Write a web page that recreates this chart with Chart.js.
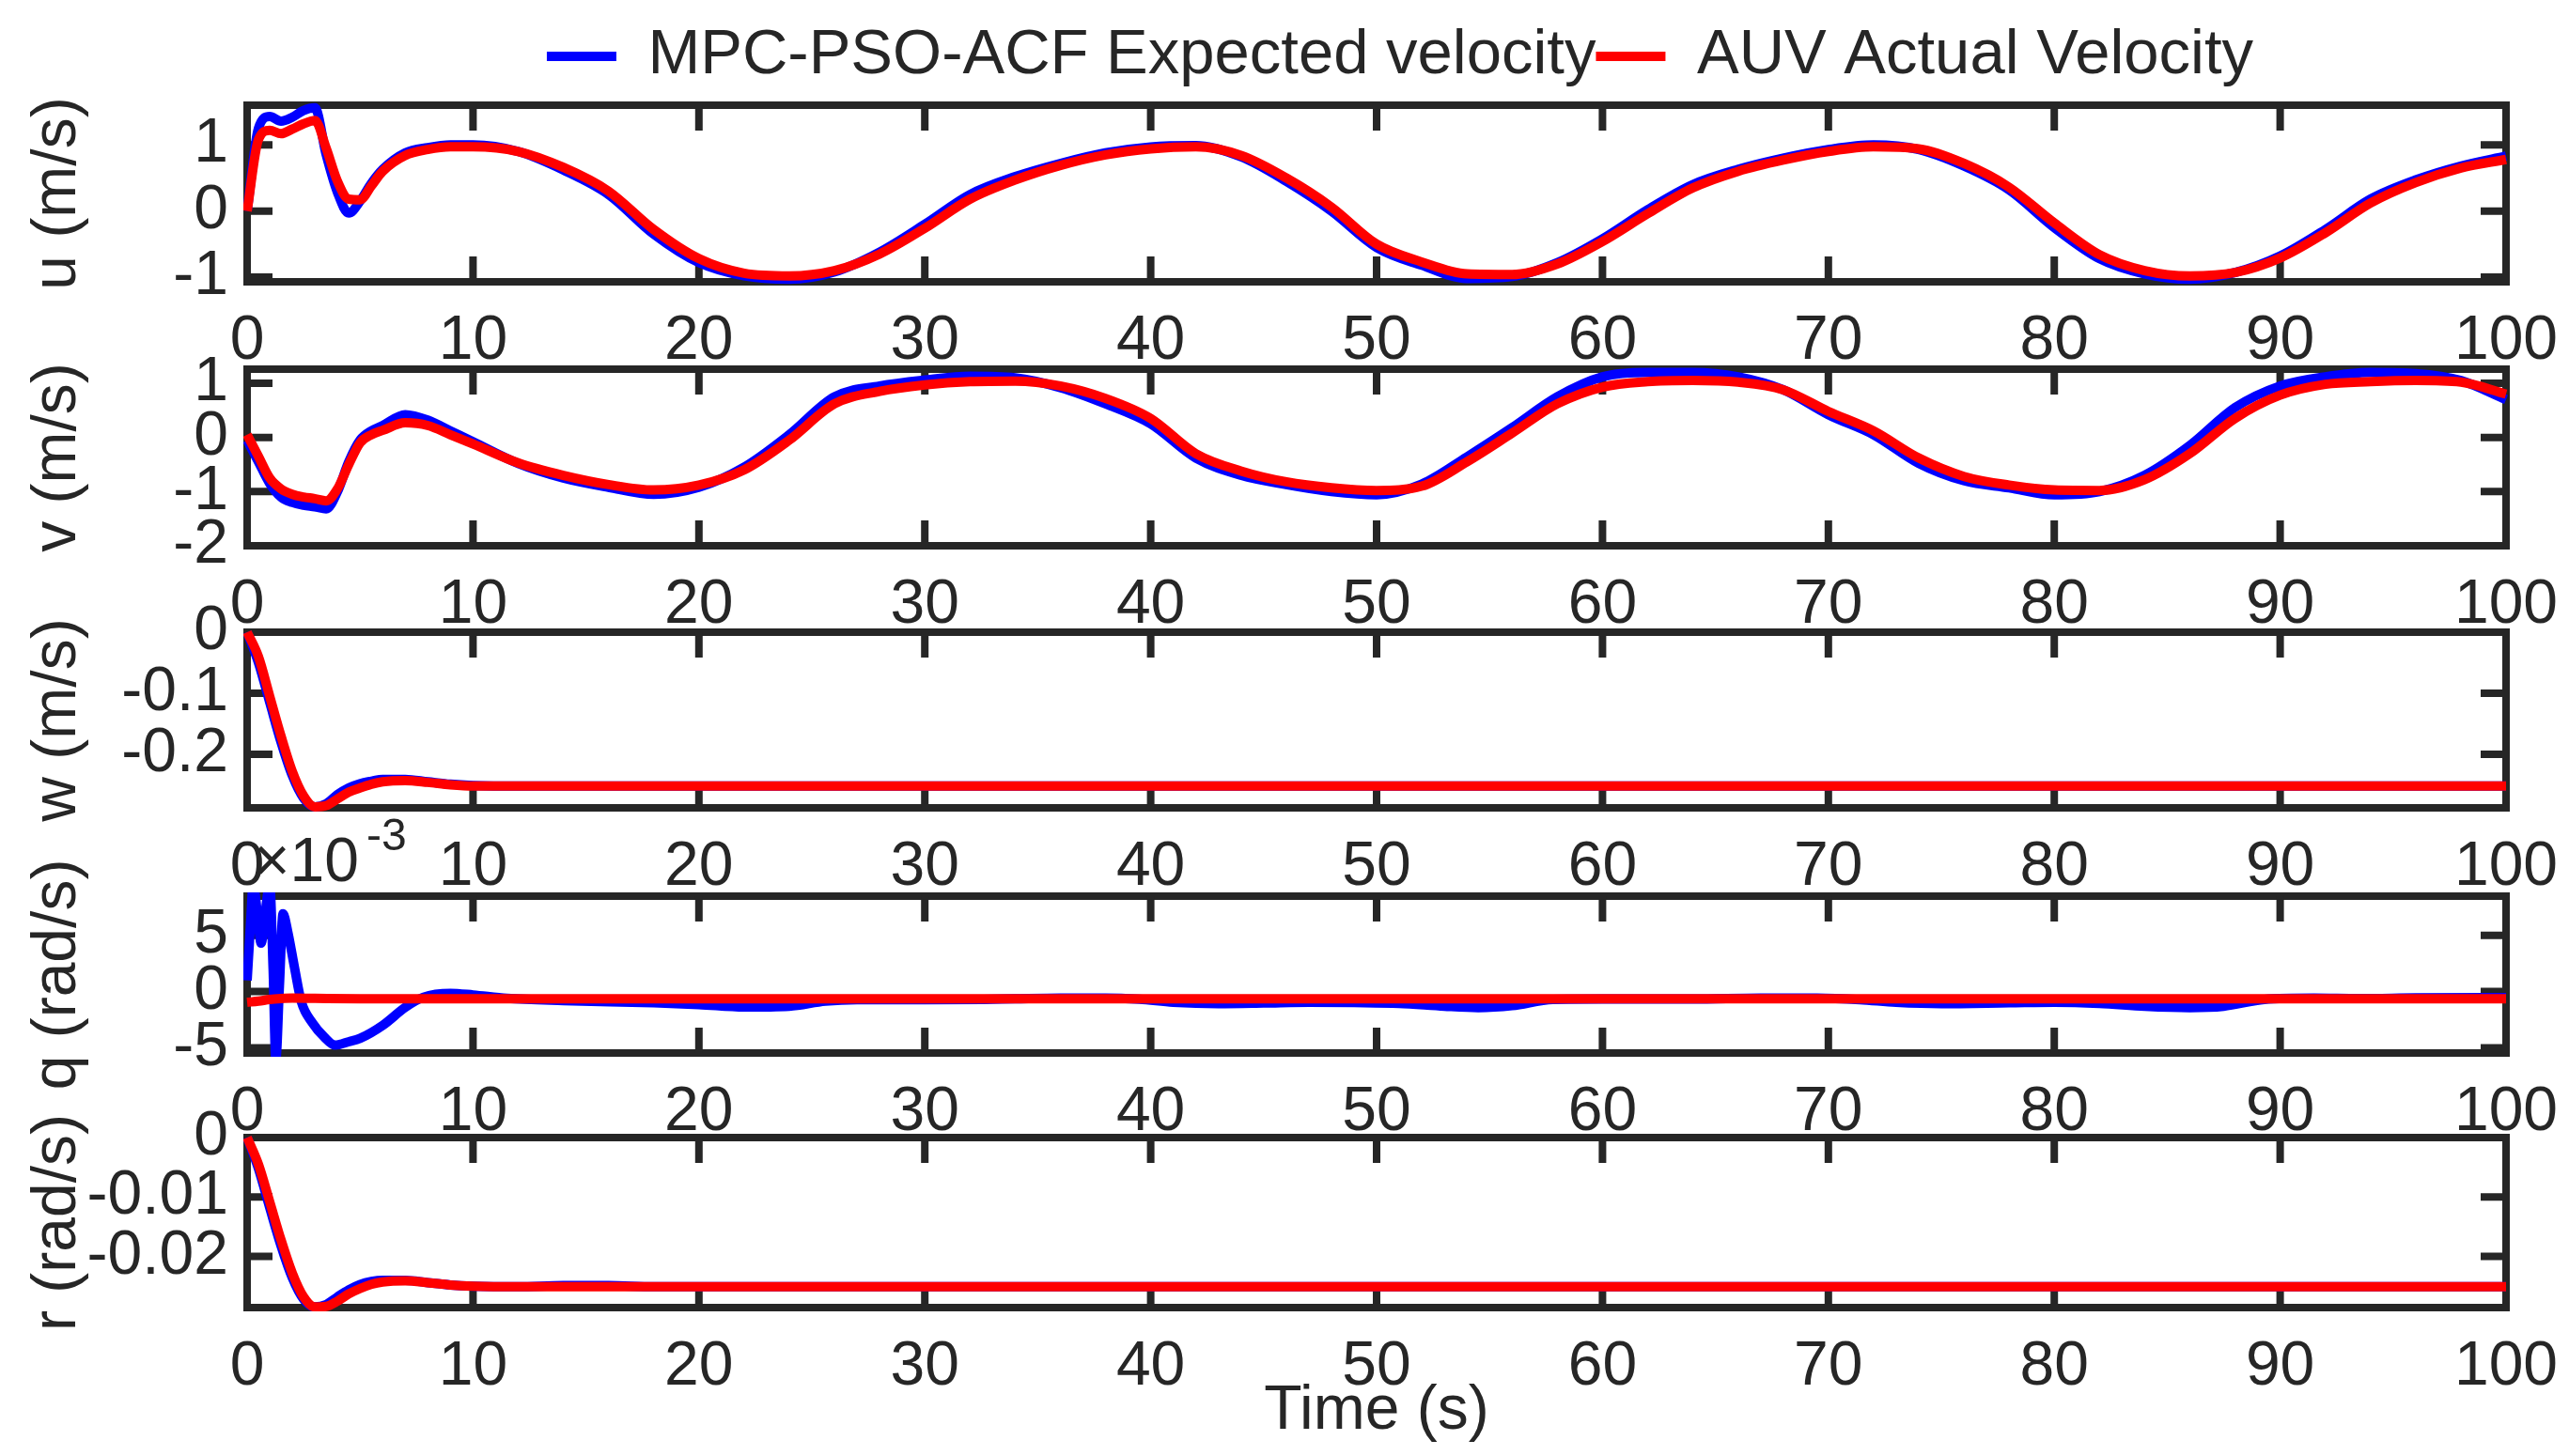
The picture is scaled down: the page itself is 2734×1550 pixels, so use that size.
<!DOCTYPE html>
<html>
<head>
<meta charset="utf-8">
<title>AUV velocity tracking</title>
<script src="https://cdn.jsdelivr.net/npm/chart.js@4.4.0/dist/chart.umd.min.js"></script>
<style>
  html, body { margin: 0; padding: 0; background: #fff; overflow: hidden; }
  body { width: 2734px; height: 1550px; position: relative; }
  canvas { position: absolute; left: 0; }
</style>
</head>
<body>
<canvas id="uChart" width="2980" height="400" style="top:0px"></canvas>
<canvas id="vChart" width="2734" height="348" style="top:333px"></canvas>
<canvas id="wChart" width="2734" height="347" style="top:613px"></canvas>
<canvas id="qChart" width="2734" height="367" style="top:854px"></canvas>
<canvas id="rChart" width="2734" height="399" style="top:1151px"></canvas>
<script>
// time axis (s) shared by u and v
const t = [0, 0.5, 1, 1.5, 2, 2.5, 3, 3.5, 4, 4.5, 5, 5.5, 6, 7, 8, 9, 10,
  12, 14, 16, 18, 20, 22, 24, 26, 28, 30, 32, 34, 36, 38, 40, 42, 44, 46, 48, 50,
  52, 54, 56, 58, 60, 62, 64, 66, 68, 70, 72, 74, 76, 78, 80, 82, 84, 86, 88, 90,
  92, 94, 96, 98, 100];

// u (m/s)
const uExp = [0, 1.25, 1.43, 1.36, 1.42, 1.52, 1.56, 0.85, 0.28, -0.03, 0.15, 0.42, 0.63, 0.88, 0.96, 1.0, 1.0,
  0.9, 0.62, 0.25, -0.35, -0.78, -0.98, -1.03, -0.92, -0.62, -0.2, 0.25, 0.52, 0.72, 0.88, 0.97, 0.99, 0.82, 0.45, 0.0, -0.55,
  -0.82, -1.02, -0.99, -0.78, -0.42, 0.02, 0.4, 0.63, 0.8, 0.93, 1.0, 0.93, 0.68, 0.32, -0.25, -0.72, -0.95, -1.03, -0.93, -0.68,
  -0.28, 0.18, 0.47, 0.68, 0.83];
const uAct = [0, 1.08, 1.22, 1.17, 1.24, 1.32, 1.37, 0.95, 0.45, 0.18, 0.17, 0.38, 0.6, 0.84, 0.93, 0.97, 0.97,
  0.9, 0.66, 0.3, -0.28, -0.72, -0.94, -0.98, -0.9, -0.65, -0.26, 0.18, 0.47, 0.69, 0.85, 0.94, 0.97, 0.84, 0.5, 0.06, -0.5,
  -0.77, -0.95, -0.96, -0.8, -0.46, -0.04, 0.35, 0.6, 0.77, 0.9, 0.97, 0.94, 0.72, 0.36, -0.18, -0.66, -0.9, -0.98, -0.93, -0.71,
  -0.33, 0.12, 0.43, 0.65, 0.78];

// v (m/s)
const vExp = [-0.05, -0.45, -0.85, -1.1, -1.2, -1.25, -1.28, -1.32, -1.0, -0.45, -0.05, 0.12, 0.22, 0.42, 0.32, 0.12, -0.08,
  -0.48, -0.75, -0.92, -1.05, -0.92, -0.55, 0.05, 0.75, 0.95, 1.06, 1.13, 1.1, 0.92, 0.62, 0.25, -0.38, -0.7, -0.87, -1.0, -1.06,
  -0.86, -0.36, 0.18, 0.75, 1.12, 1.2, 1.2, 1.12, 0.88, 0.42, 0.05, -0.48, -0.8, -0.93, -1.06, -1.0, -0.7, -0.15, 0.55, 0.95,
  1.12, 1.2, 1.18, 1.05, 0.7];
const vAct = [0.05, -0.35, -0.75, -0.95, -1.05, -1.1, -1.13, -1.17, -0.95, -0.5, -0.1, 0.05, 0.13, 0.27, 0.22, 0.05, -0.12,
  -0.47, -0.7, -0.87, -0.97, -0.88, -0.6, -0.05, 0.62, 0.85, 0.97, 1.03, 1.04, 0.95, 0.72, 0.35, -0.3, -0.62, -0.82, -0.93, -0.98,
  -0.9, -0.45, 0.08, 0.62, 0.93, 1.03, 1.05, 1.02, 0.88, 0.48, 0.12, -0.38, -0.72, -0.88, -0.97, -0.98, -0.78, -0.3, 0.35, 0.78,
  0.98, 1.03, 1.05, 1.02, 0.8];

// time axis (s) for w and r, which settle after ~10 s
const tFlat = [0, 0.5, 1, 1.5, 2, 2.5, 3, 3.5, 4, 4.5, 5, 5.5, 6, 7, 8, 9, 10, 12, 14, 16, 18, 20, 30, 40, 50, 60, 70, 80, 90, 100];

// w (m/s)
const wExp = [0, -0.05, -0.115, -0.18, -0.235, -0.272, -0.286, -0.281, -0.266, -0.255, -0.248, -0.244, -0.241, -0.241, -0.245, -0.249, -0.251,
  -0.252, -0.252, -0.252, -0.252, -0.252, -0.252, -0.252, -0.252, -0.252, -0.252, -0.252, -0.252, -0.252];
const wAct = [0, -0.04, -0.105, -0.17, -0.228, -0.268, -0.286, -0.284, -0.273, -0.262, -0.255, -0.249, -0.245, -0.243, -0.246, -0.25, -0.252,
  -0.252, -0.252, -0.252, -0.252, -0.252, -0.252, -0.252, -0.252, -0.252, -0.252, -0.252, -0.252, -0.252];

// r (rad/s)
const rExp = [0, -0.0052, -0.0118, -0.0182, -0.0236, -0.0272, -0.0285, -0.0281, -0.0268, -0.0256, -0.0247, -0.0242, -0.024, -0.024, -0.0244, -0.0248, -0.025,
  -0.0251, -0.0249, -0.0249, -0.0251, -0.0251, -0.0251, -0.0251, -0.0251, -0.0251, -0.0251, -0.0251, -0.0251, -0.0251];
const rAct = [0, -0.0045, -0.0108, -0.0172, -0.0228, -0.0268, -0.0285, -0.0284, -0.0275, -0.0263, -0.0254, -0.0247, -0.0243, -0.0241, -0.0244, -0.0248, -0.025,
  -0.0251, -0.0251, -0.0251, -0.0251, -0.0251, -0.0251, -0.0251, -0.0251, -0.0251, -0.0251, -0.0251, -0.0251, -0.0251];

// q (rad/s), values in units of 1e-3
const tQ = [0, 0.15, 0.27, 0.45, 0.62, 0.8, 1.0, 1.15, 1.27, 1.43, 1.59, 1.8, 2.1, 2.4, 2.9, 3.4, 3.9, 4.5, 5, 6,
  7, 7.8, 9, 10, 11.5, 14, 18, 20, 22, 24, 25.6, 27, 30, 32.6, 34, 36, 38, 39.5, 41, 43,
  45, 47, 49, 51, 53, 54.5, 56, 57.8, 60, 64, 67, 69.5, 71.4, 73, 75, 78, 80, 82, 84, 86,
  87.5, 89.3, 91.5, 93.5, 96, 100];
const qExp = [1.0, 6.0, 9.5, 7.0, 4.3, 7.0, 9.5, 2.0, -6.0, 0.5, 6.9, 5.3, 2.1, -0.9, -2.8, -4.0, -4.75, -4.45, -4.15, -3.0,
  -1.4, -0.5, -0.15, -0.3, -0.6, -0.8, -1.0, -1.15, -1.37, -1.3, -0.85, -0.72, -0.73, -0.7, -0.64, -0.57, -0.57, -0.68, -0.95, -1.07,
  -1.02, -0.95, -0.98, -1.05, -1.3, -1.42, -1.25, -0.7, -0.66, -0.66, -0.57, -0.58, -0.72, -0.95, -1.07, -1.0, -0.95, -1.05, -1.3, -1.42,
  -1.3, -0.7, -0.58, -0.62, -0.56, -0.53];
const tQAct = [0, 0.5, 1, 1.5, 2, 3, 5, 10, 20, 30, 40, 50, 60, 70, 80, 90, 100];
const qAct = [-0.95, -0.85, -0.7, -0.62, -0.58, -0.6, -0.63, -0.63, -0.63, -0.63, -0.63, -0.63, -0.63, -0.63, -0.63, -0.63, -0.63];

// ticks
const xTicks = [0, 10, 20, 30, 40, 50, 60, 70, 80, 90, 100];
const uTicks = [-1, 0, 1];
const vTicks = [-2, -1, 0, 1];
const wTicks = [-0.2, -0.1, 0];
const qTicks = [-5, 0, 5];
const rTicks = [-0.02, -0.01, 0];

const seriesNames = ['MPC-PSO-ACF Expected velocity', 'AUV Actual Velocity'];

const FONT = '"Liberation Sans", Arial, Helvetica, sans-serif';
const INK = '#262626';
const BLUE = '#0000ff';
const RED = '#ff0000';

Chart.defaults.font.family = FONT;
Chart.defaults.color = INK;

// matlab style box with inward ticks on all four sides
const boxPlugin = {
  id: 'matlabBox',
  beforeDatasetsDraw(chart) {
    const { ctx, chartArea: a } = chart;
    const x = chart.scales.x;
    const y = chart.scales.y;
    ctx.save();
    ctx.strokeStyle = INK;
    ctx.lineWidth = 8;
    ctx.strokeRect(a.left, a.top, a.right - a.left, a.bottom - a.top);
    ctx.beginPath();
    x.ticks.forEach((tk) => {
      const px = x.getPixelForValue(tk.value);
      ctx.moveTo(px, a.top);
      ctx.lineTo(px, a.top + 27);
      ctx.moveTo(px, a.bottom);
      ctx.lineTo(px, a.bottom - 27);
    });
    y.ticks.forEach((tk) => {
      const py = y.getPixelForValue(tk.value);
      ctx.moveTo(a.left, py);
      ctx.lineTo(a.left + 27, py);
      ctx.moveTo(a.right, py);
      ctx.lineTo(a.right - 27, py);
    });
    ctx.stroke();
    ctx.restore();
  },
};

// "x10^-3" multiplier above the q axes
const exponentPlugin = {
  id: 'exponentLabel',
  afterDraw(chart) {
    const { ctx, chartArea: a } = chart;
    ctx.save();
    ctx.fillStyle = INK;
    ctx.textAlign = 'left';
    ctx.textBaseline = 'alphabetic';
    ctx.font = '66px ' + FONT;
    const base = '\u00d710';
    ctx.fillText(base, a.left + 7, a.top - 16);
    const w = ctx.measureText(base).width;
    ctx.font = '48px ' + FONT;
    ctx.fillText('-3', a.left + 7 + w + 8, a.top - 49);
    ctx.restore();
  },
};

function line(times, values, color, label, order) {
  return {
    label: label,
    data: times.map((x, i) => ({ x: x, y: values[i] })),
    borderColor: color,
    backgroundColor: color,
    borderWidth: 10,
    pointRadius: 0,
    fill: false,
    cubicInterpolationMode: 'monotone',
    borderJoinStyle: 'round',
    clip: 4,
    order: order,
  };
}

function panel(canvasId, cfg) {
  const options = {
    responsive: false,
    animation: false,
    events: [],
    layout: { padding: { top: cfg.padTop, right: cfg.padRight, bottom: 0, left: 0 } },
    plugins: { legend: { display: false }, tooltip: { enabled: false } },
    scales: {
      x: {
        type: 'linear',
        min: 0,
        max: 100,
        afterBuildTicks: (s) => { s.ticks = xTicks.map((v) => ({ value: v })); },
        afterFit: (s) => {
          s.height = cfg.xHeight;
          // end labels may hang past the axes, as in matlab
          s.paddingLeft = 0;
          s.paddingRight = 0;
        },
        grid: { display: false, drawTicks: false },
        border: { display: false },
        ticks: { padding: 24, maxRotation: 0, autoSkip: false, color: INK, font: { size: 66 }, callback: (v) => String(v) },
        title: cfg.xTitle
          ? { display: true, text: cfg.xTitle, color: INK, font: { size: 66 }, padding: { top: 0, bottom: 8 } }
          : { display: false },
      },
      y: {
        type: 'linear',
        min: cfg.min,
        max: cfg.max,
        afterBuildTicks: (s) => { s.ticks = cfg.ticks.map((v) => ({ value: v })); },
        afterFit: (s) => { s.width = 263; },
        grid: { display: false, drawTicks: false },
        border: { display: false },
        ticks: { padding: 20, autoSkip: false, color: INK, font: { size: 66 }, callback: (v) => String(v) },
        title: { display: true, text: cfg.label, color: INK, font: { size: 66 }, padding: { top: 22, bottom: 0 } },
      },
    },
  };
  if (cfg.extend) cfg.extend(options);
  return new Chart(document.getElementById(canvasId), {
    type: 'line',
    data: {
      datasets: [
        line(cfg.tExp, cfg.exp, BLUE, seriesNames[0], 1),
        line(cfg.tAct, cfg.act, RED, seriesNames[1], 0),
      ],
    },
    options: options,
    plugins: [boxPlugin].concat(cfg.plugins || []),
  });
}

// top panel carries the legend
panel('uChart', {
  tExp: t, exp: uExp, tAct: t, act: uAct,
  min: -1.07, max: 1.6, ticks: uTicks, label: 'u (m/s)',
  padTop: 26.5, padRight: 0, xHeight: 100,
  extend: (o) => {
    o.plugins.legend = {
      display: true,
      position: 'top',
      fullSize: true,
      align: 'center',
      labels: {
        color: INK,
        font: { size: 67 },
        boxWidth: 74,
        boxHeight: 10,
        padding: 0,
        sort: (a, b) => a.datasetIndex - b.datasetIndex,
        generateLabels: (chart) =>
          Chart.defaults.plugins.legend.labels.generateLabels(chart).map((item) => ({
            ...item, fillStyle: item.strokeStyle, lineWidth: 0,
          })),
      },
    };
    // thin spacer between legend and axes
    o.plugins.title = {
      display: true, text: '', position: 'top', weight: 500, fullSize: true,
      padding: { top: 0, bottom: 7.5 }, font: { size: 1, lineHeight: 1 },
    };
    // empty right-hand strip so the legend centres over the axes like the original
    o.scales.yR = {
      type: 'linear', position: 'right', display: true,
      grid: { display: false, drawTicks: false }, border: { display: false },
      ticks: { display: false },
      afterFit: (s) => { s.width = 313; },
    };
  },
});

panel('vChart', {
  tExp: t, exp: vExp, tAct: t, act: vAct,
  min: -2, max: 1.26, ticks: vTicks, label: 'v (m/s)',
  padTop: 60, padRight: 67, xHeight: 100,
});

panel('wChart', {
  tExp: tFlat, exp: wExp, tAct: tFlat, act: wAct,
  min: -0.2877, max: 0, ticks: wTicks, label: 'w (m/s)',
  padTop: 60, padRight: 67, xHeight: 100,
});

panel('qChart', {
  tExp: tQ, exp: qExp, tAct: tQAct, act: qAct,
  min: -5.45, max: 8.47, ticks: qTicks, label: 'q (rad/s)',
  padTop: 100, padRight: 67, xHeight: 100,
  plugins: [exponentPlugin],
});

panel('rChart', {
  tExp: tFlat, exp: rExp, tAct: tFlat, act: rAct,
  min: -0.0286, max: 0, ticks: rTicks, label: 'r (rad/s)',
  padTop: 60, padRight: 67, xHeight: 158, xTitle: 'Time (s)',
});
</script>
</body>
</html>
